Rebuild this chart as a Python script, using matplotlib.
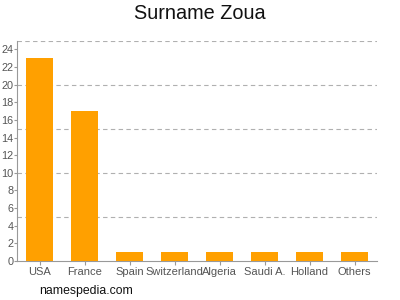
import matplotlib
matplotlib.use("Agg")
import matplotlib.pyplot as plt

# counts per country
countries = ["USA", "France", "Spain", "Switzerland", "Algeria", "Saudi A.", "Holland", "Others"]
counts = [23, 17, 1, 1, 1, 1, 1, 1]
yticks = list(range(0, 25, 2))
grid_levels = [5, 10, 15, 20, 25]

plt.rcParams['font.family'] = ['Liberation Sans', 'DejaVu Sans']

fig = plt.figure(figsize=(4, 3), dpi=100)
ax = fig.add_axes([0.0425, 0.13, 0.9, 0.735])

x = range(len(countries))
ax.bar(x, counts, width=0.62, color='#ffa000', zorder=3)

for g in grid_levels:
    ax.axhline(g, color='#b0b0b0', lw=0.8, ls=(0, (4, 3)), zorder=1)

ax.set_xlim(-0.5, len(countries) - 0.5)
ax.set_ylim(0, 25)
ax.set_yticks(yticks)
ax.set_xticks(list(x))
ax.set_xticklabels(countries)

for s in ['top', 'right']:
    ax.spines[s].set_visible(False)
for s in ['left', 'bottom']:
    ax.spines[s].set_color('#999999')
    ax.spines[s].set_linewidth(0.8)

ax.tick_params(axis='x', colors='#999999', labelcolor='#555555',
               labelsize=8, length=3, width=0.8, pad=1.5)
ax.tick_params(axis='y', colors='#999999', labelcolor='#555555',
               labelsize=7.8, length=2, width=0.8, pad=0.5)

fig.text(0.5, 0.955, "Surname Zoua", ha='center', va='center', fontsize=14.3, color='#111111')
fig.text(0.098, 0.03, "namespedia.com", ha='left', va='center', fontsize=8.8, color='#111111')

fig.savefig("out.png", dpi=100)
